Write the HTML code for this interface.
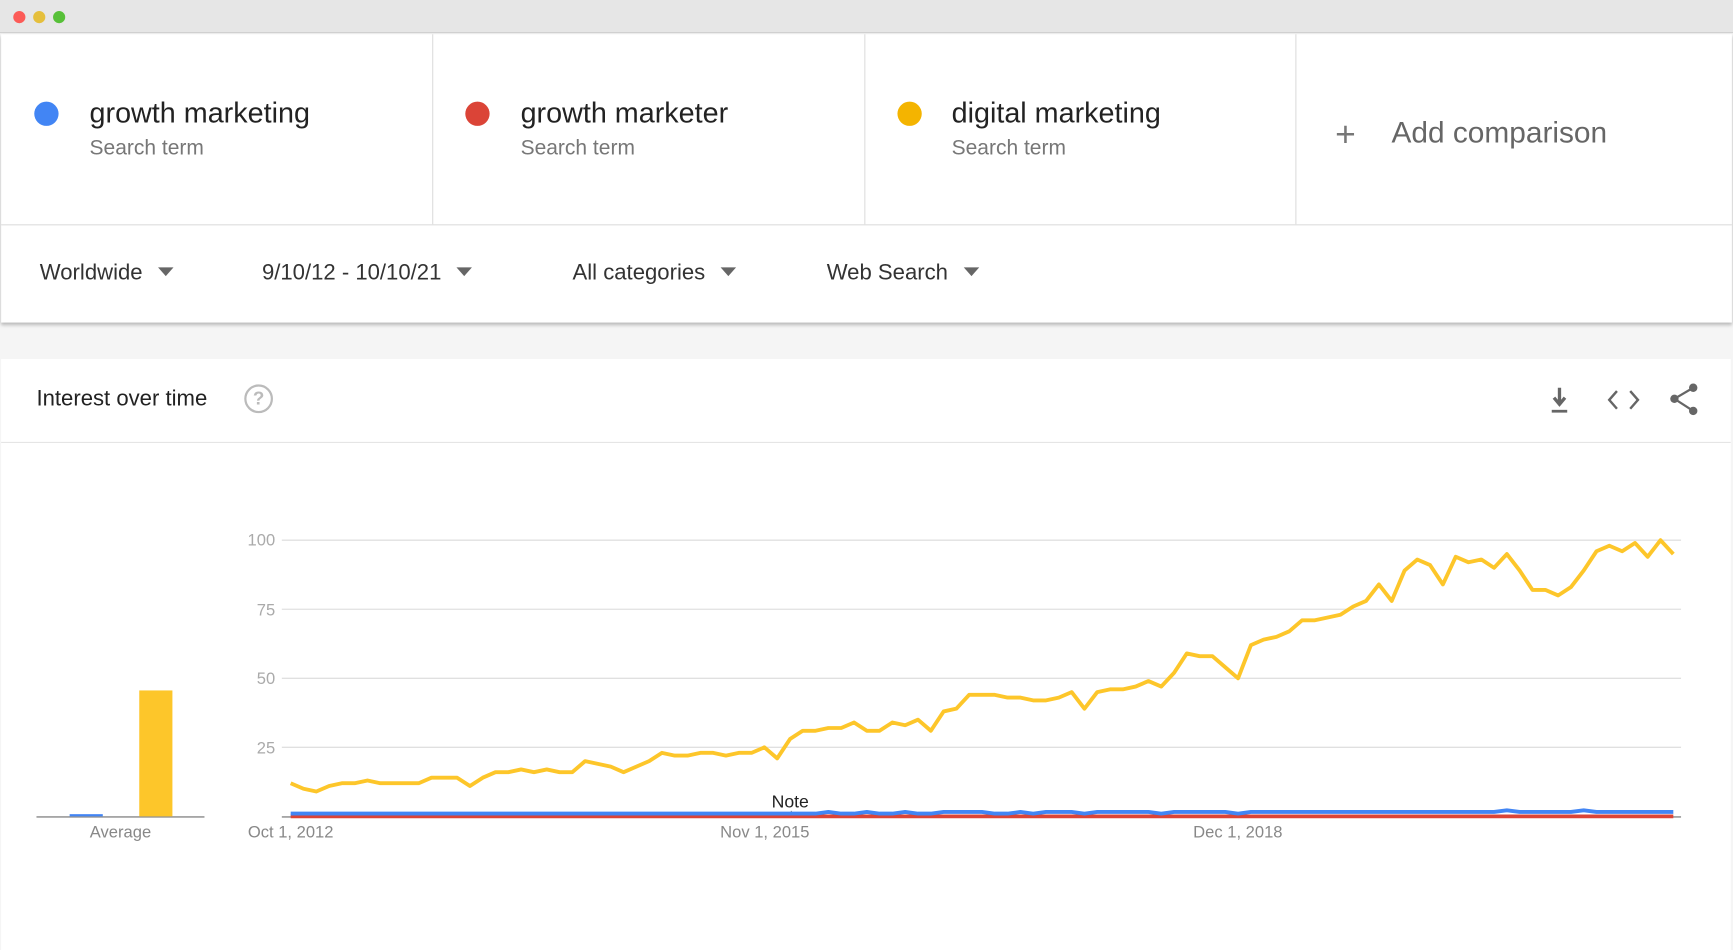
<!DOCTYPE html>
<html><head><meta charset="utf-8"><style>
*{margin:0;padding:0;box-sizing:border-box}
html,body{width:1733px;height:950px;overflow:hidden;background:#fff;font-family:"Liberation Sans",Arial,sans-serif}
#s{width:1568px;height:860px;position:relative;transform:scale(1.10523,1.1047);transform-origin:0 0;background:#f5f5f5}
.a{position:absolute}
.t{font-size:26px;color:#222;white-space:nowrap}
.st{font-size:19px;color:#777;white-space:nowrap}
.f{font-size:20px;color:#333;white-space:nowrap}
.tri{display:inline-block;width:0;height:0;border-left:7px solid transparent;border-right:7px solid transparent;border-top:8px solid #666;margin-left:14px;vertical-align:3px}
</style></head><body><div id="s">
<div class="a" style="left:0;top:0;width:1568px;height:30px;background:#e6e6e6;border-bottom:1px solid #d0d0d0"></div>
<div class="a" style="left:12px;top:10px;width:11px;height:11px;border-radius:50%;background:#fc5b57"></div>
<div class="a" style="left:30px;top:10px;width:11px;height:11px;border-radius:50%;background:#e5bf3c"></div>
<div class="a" style="left:48px;top:10px;width:11px;height:11px;border-radius:50%;background:#57c038"></div>
<div class="a" style="left:1px;top:31px;width:1566px;height:261px;background:#fff;box-shadow:0 2px 3px rgba(0,0,0,.25)"></div>
<div class="a" style="left:1px;top:203px;width:1566px;height:1px;background:#ddd"></div>
<div class="a" style="left:391px;top:31px;width:1px;height:172px;background:#ddd"></div>
<div class="a" style="left:782px;top:31px;width:1px;height:172px;background:#ddd"></div>
<div class="a" style="left:1172px;top:31px;width:1px;height:172px;background:#ddd"></div>
<div class="a" style="left:31px;top:92px;width:22px;height:22px;border-radius:50%;background:#4285f4"></div>
<div class="a" style="left:421px;top:92px;width:22px;height:22px;border-radius:50%;background:#db4437"></div>
<div class="a" style="left:812px;top:92px;width:22px;height:22px;border-radius:50%;background:#f4b400"></div>
<div class="a t" style="left:81px;top:87px">growth marketing</div>
<div class="a st" style="left:81px;top:124px">Search term</div>
<div class="a t" style="left:471px;top:87px">growth marketer</div>
<div class="a st" style="left:471px;top:124px">Search term</div>
<div class="a t" style="left:861px;top:87px">digital marketing</div>
<div class="a st" style="left:861px;top:124px">Search term</div>
<div class="a" style="left:1208px;top:103px;font-size:32px;color:#777">+</div>
<div class="a" style="left:1259px;top:105px;font-size:27px;color:#666;white-space:nowrap">Add comparison</div>
<div class="a f" style="left:36px;top:236px">Worldwide<span class="tri"></span></div>
<div class="a f" style="left:237px;top:236px">9/10/12 - 10/10/21<span class="tri"></span></div>
<div class="a f" style="left:518px;top:236px">All categories<span class="tri"></span></div>
<div class="a f" style="left:748px;top:236px">Web Search<span class="tri"></span></div>
<div class="a" style="left:1px;top:325px;width:1565px;height:535px;background:#fff"></div>
<div class="a" style="left:1px;top:400px;width:1565px;height:1px;background:#e5e5e5"></div>
<div class="a f" style="left:33px;top:350px;color:#222">Interest over time</div>
<div class="a" style="left:221px;top:348px;width:26px;height:26px;border-radius:50%;border:2px solid #bbb;color:#bbb;font-size:17px;text-align:center;line-height:22px;font-weight:bold">?</div>
<svg class="a" style="left:1395px;top:345px" width="150" height="35">
<path d="M16 6v14M11 15l5 6 5-6" stroke="#666" stroke-width="3" fill="none"/><rect x="9" y="26" width="14" height="2.5" fill="#666"/>
<path d="M68 9l-7 8 7 8M80 9l7 8-7 8" stroke="#666" stroke-width="2.2" fill="none"/>
<circle cx="137" cy="6" r="3.8" fill="#666"/><circle cx="120" cy="16" r="3.8" fill="#666"/><circle cx="137" cy="27" r="3.8" fill="#666"/>
<path d="M137 6L120 16L137 27" stroke="#666" stroke-width="2" fill="none"/>
</svg>
<svg class="a" style="left:0;top:0" width="1568" height="860" id="c">
<g stroke="#e0e0e0" stroke-width="1.2">
<line x1="255" y1="489" x2="1521" y2="489"/><line x1="255" y1="551.5" x2="1521" y2="551.5"/><line x1="255" y1="614" x2="1521" y2="614"/><line x1="255" y1="676.5" x2="1521" y2="676.5"/>
</g>
<line x1="255" y1="739.5" x2="1521" y2="739.5" stroke="#888" stroke-width="1.2"/>
<line x1="33" y1="739.5" x2="185" y2="739.5" stroke="#888" stroke-width="1.2"/>
<rect x="63" y="737" width="30" height="2" fill="#4285f4"/>
<rect x="126" y="625" width="30" height="114" fill="#fdc62a"/>
<g font-size="15" fill="#aaa" text-anchor="end" font-family="Liberation Sans,sans-serif">
<text x="249" y="494">100</text><text x="249" y="557">75</text><text x="249" y="619">50</text><text x="249" y="682">25</text>
</g>
<g font-size="15" fill="#888" text-anchor="middle" font-family="Liberation Sans,sans-serif">
<text x="109" y="758">Average</text><text x="263" y="758">Oct 1, 2012</text><text x="692" y="758">Nov 1, 2015</text><text x="1120" y="758">Dec 1, 2018</text>
</g>
<text x="715" y="731" font-size="16" fill="#222" text-anchor="middle" font-family="Liberation Sans,sans-serif">Note</text>
<line x1="716" y1="734" x2="716" y2="740" stroke="#888"/>
</svg>
</div>
<script>
var y=[12,10,9,11,12,12,13,12,12,12,12,14,14,14,11,14,16,16,17,16,17,16,16,20,19,18,16,18,20,23,22,22,23,23,22,23,23,25,21,28,31,31,32,32,34,31,31,34,33,35,31,38,39,44,44,44,43,43,42,42,43,45,39,45,46,46,47,49,47,52,59,58,58,54,50,62,64,65,67,71,71,72,73,76,78,84,78,89,93,91,84,94,92,93,90,95,89,82,82,80,83,89,96,98,96,99,94,100,95];
var n=y.length,x0=263,x1=1514,dx=(x1-x0)/(n-1);
function pts(a){return a.map(function(v,i){return (x0+i*dx).toFixed(1)+','+(739-v*2.5).toFixed(1)}).join(' ')}
var b=y.map(function(v,i){var xx=x0+i*dx;if(xx<735)return 1;if(xx>1355&&xx<1370)return 2.2;if(xx>1425&&xx<1440)return 2.2;if(xx>845&&xx<880)return 1.6;if(xx>940&&xx<975)return 1.6;if(xx>990&&xx<1045)return 1.6;if(xx>1070&&xx<1110)return 1.6;if(xx>1125)return 1.6;return i%3==0?1.6:1;});
var r=y.map(function(){return 0});
var c=document.getElementById('c'),ns='http://www.w3.org/2000/svg';
[[r,'#db4437'],[b,'#4285f4'],[y,'#fdc62a']].forEach(function(p){var e=document.createElementNS(ns,'polyline');e.setAttribute('points',pts(p[0]));e.setAttribute('fill','none');e.setAttribute('stroke',p[1]);e.setAttribute('stroke-width','3.5');e.setAttribute('stroke-linejoin','round');c.appendChild(e)});
</script>
</body></html>
